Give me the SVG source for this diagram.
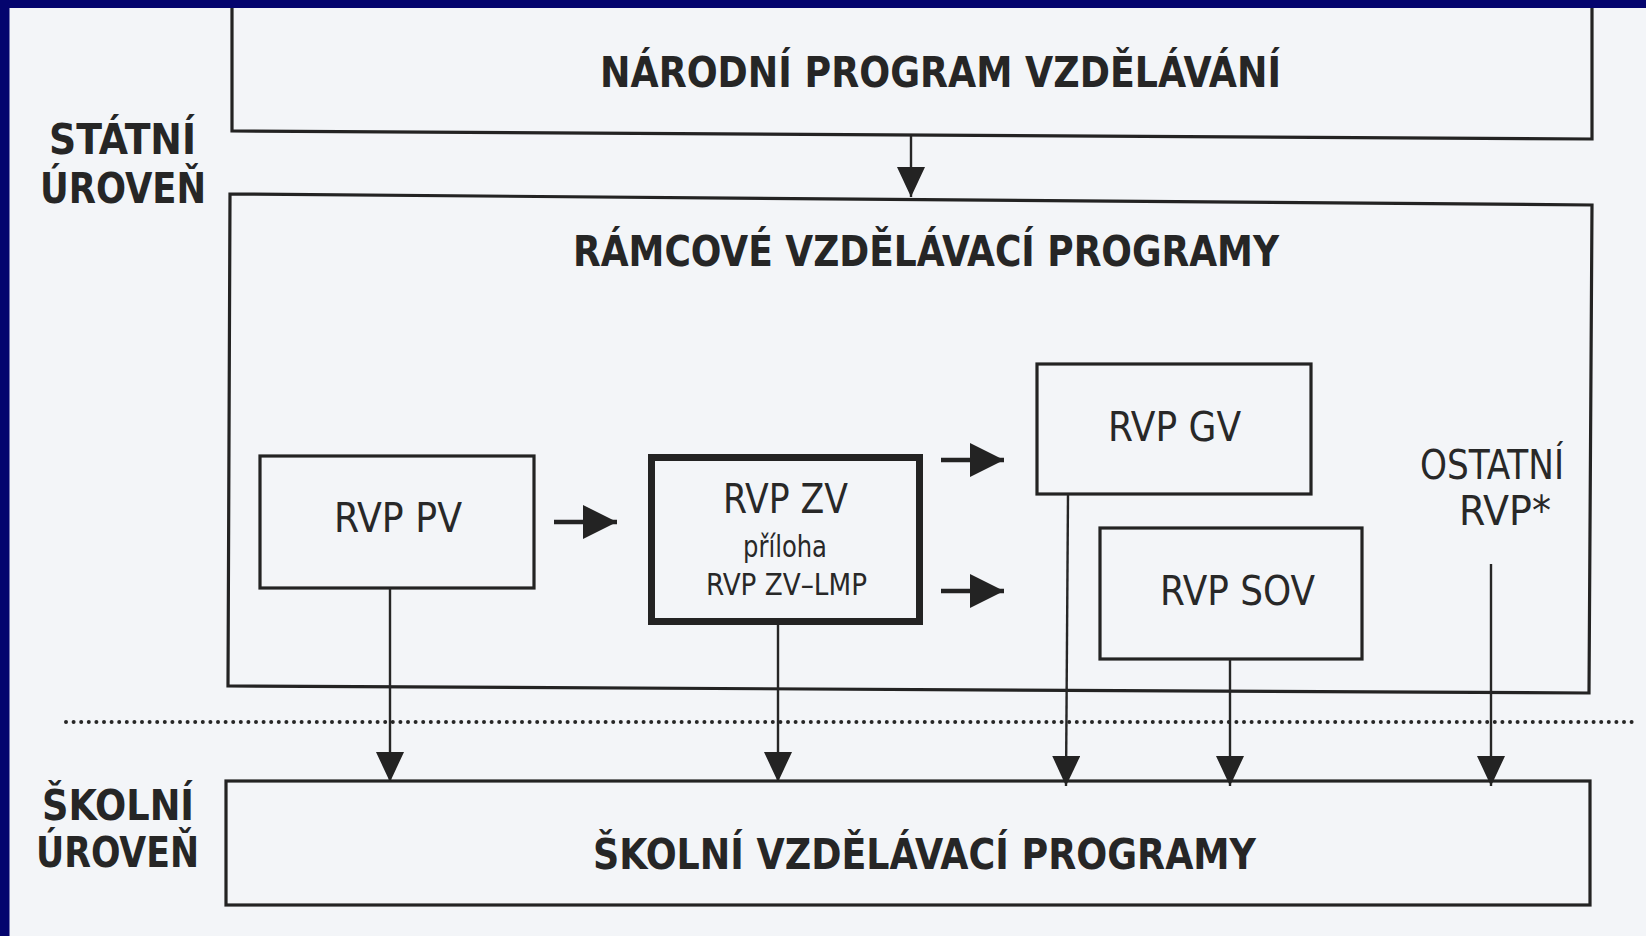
<svg xmlns="http://www.w3.org/2000/svg" width="1646" height="936" viewBox="0 0 1646 936">
<defs>
<marker id="arrV" markerUnits="userSpaceOnUse" viewBox="0 0 30 28" refX="30" refY="14" markerWidth="30" markerHeight="28" orient="auto">
<path d="M0,0 L30,14 L0,28 z" fill="#232323"/>
</marker>
<marker id="arrB" markerUnits="userSpaceOnUse" viewBox="0 0 34 34" refX="34" refY="17" markerWidth="34" markerHeight="34" orient="auto">
<path d="M0,0 L34,17 L0,34 z" fill="#232323"/>
</marker>
</defs>
<style>
.box{fill:none;stroke:#232323;stroke-width:3.2}
.thick{fill:none;stroke:#232323;stroke-width:7}
.conn{stroke:#262626;stroke-width:2.4;fill:none}
.short{stroke:#232323;stroke-width:4.5;fill:none}
.title{font-family:"DejaVu Sans Condensed","DejaVu Sans",sans-serif;font-weight:bold;font-size:42px;fill:#262626}
.lbl{font-family:"DejaVu Sans Condensed","DejaVu Sans",sans-serif;font-size:40px;fill:#282828}
.sm{font-family:"DejaVu Sans Condensed","DejaVu Sans",sans-serif;font-size:31px;fill:#282828}
</style>
<rect x="0" y="0" width="1646" height="936" fill="#f3f5f8"/>
<rect x="0" y="0" width="1646" height="8" fill="#04046e"/>
<rect x="0" y="0" width="9.5" height="936" fill="#04046e"/>

<g id="level-state">
<text class="title" x="49" y="154" textLength="147" lengthAdjust="spacingAndGlyphs">STÁTNÍ</text>
<text class="title" x="40" y="203" textLength="166" lengthAdjust="spacingAndGlyphs">ÚROVEŇ</text>
</g>
<g id="level-school">
<text class="title" x="42" y="820" textLength="152" lengthAdjust="spacingAndGlyphs">ŠKOLNÍ</text>
<text class="title" x="36" y="867" textLength="163" lengthAdjust="spacingAndGlyphs">ÚROVEŇ</text>
</g>

<g id="nps">
<polyline class="box" points="232,8 232,131 1592,139 1592,8"/>
<text class="title" x="600" y="87" textLength="681" lengthAdjust="spacingAndGlyphs">NÁRODNÍ PROGRAM VZDĚLÁVÁNÍ</text>
</g>

<g id="rvp">
<polygon class="box" points="230,194 1592,205 1589,693 228,686"/>
<text class="title" x="573" y="266" textLength="706" lengthAdjust="spacingAndGlyphs">RÁMCOVÉ VZDĚLÁVACÍ PROGRAMY</text>
</g>

<g id="rvp-pv">
<rect class="box" x="260" y="456" width="274" height="132"/>
<text class="lbl" x="334" y="532" textLength="128" lengthAdjust="spacingAndGlyphs">RVP PV</text>
</g>

<g id="rvp-zv">
<rect class="thick" x="651.5" y="457.5" width="268" height="164"/>
<text class="lbl" x="723" y="513" textLength="125" lengthAdjust="spacingAndGlyphs">RVP ZV</text>
<text class="sm" x="743" y="557" textLength="84" lengthAdjust="spacingAndGlyphs">příloha</text>
<text class="sm" x="706" y="595" textLength="161" lengthAdjust="spacingAndGlyphs">RVP ZV–LMP</text>
</g>

<g id="rvp-gv">
<rect class="box" x="1037" y="364" width="274" height="130"/>
<text class="lbl" x="1108" y="441" textLength="133" lengthAdjust="spacingAndGlyphs">RVP GV</text>
</g>

<g id="rvp-sov">
<rect class="box" x="1100" y="528" width="262" height="131"/>
<text class="lbl" x="1160" y="605" textLength="155" lengthAdjust="spacingAndGlyphs">RVP SOV</text>
</g>

<g id="ostatni">
<text class="lbl" x="1420" y="479" textLength="144" lengthAdjust="spacingAndGlyphs">OSTATNÍ</text>
<text class="lbl" x="1459" y="525" textLength="92" lengthAdjust="spacingAndGlyphs">RVP*</text>
</g>

<g id="svp">
<rect class="box" x="226" y="781" width="1364" height="124"/>
<text class="title" x="593" y="869" textLength="663" lengthAdjust="spacingAndGlyphs">ŠKOLNÍ VZDĚLÁVACÍ PROGRAMY</text>
</g>

<g id="divider">
<line x1="66" y1="722" x2="1632" y2="722" stroke="#262626" stroke-width="4" stroke-linecap="round" stroke-dasharray="0 7.6"/>
</g>

<g id="connectors">
<line class="conn" x1="911" y1="136" x2="911" y2="197" marker-end="url(#arrV)"/>
<line class="short" x1="554" y1="522" x2="617" y2="522" marker-end="url(#arrB)"/>
<line class="short" x1="941" y1="460" x2="1004" y2="460" marker-end="url(#arrB)"/>
<line class="short" x1="941" y1="591" x2="1004" y2="591" marker-end="url(#arrB)"/>
<line class="conn" x1="390" y1="588" x2="390" y2="782" marker-end="url(#arrV)"/>
<line class="conn" x1="778" y1="625" x2="778" y2="782" marker-end="url(#arrV)"/>
<line class="conn" x1="1068" y1="494" x2="1066" y2="786" marker-end="url(#arrV)"/>
<line class="conn" x1="1230" y1="659" x2="1230" y2="786" marker-end="url(#arrV)"/>
<line class="conn" x1="1491" y1="564" x2="1491" y2="786" marker-end="url(#arrV)"/>
</g>
</svg>
